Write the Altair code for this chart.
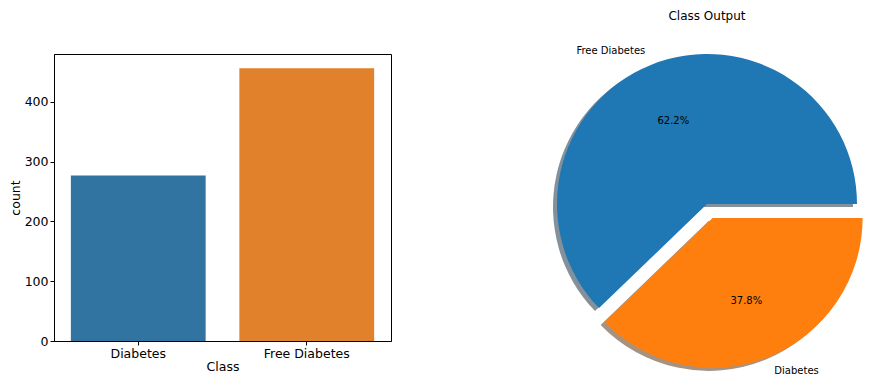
import math
import altair as alt
import pandas as pd

# ---- data ----
classes = ["Diabetes", "Free Diabetes"]
counts = [277, 456]
y_ticks = [0, 100, 200, 300, 400]

# ---- styles ----
bar_colors = ["#3274a1", "#e1812c"]
pie_colors = ["#ff7f0e", "#1f77b4"]
shadow_colors = ["#a59281", "#84919a"]
explode = [0.1, 0.0]
R = 150
SANS = "DejaVu Sans"

df = pd.DataFrame({"Class": classes, "count": counts, "idx": list(range(len(classes)))})

# ---- bar chart ----
bar = alt.Chart(df).mark_bar().encode(
    x=alt.X("Class:N", sort=classes,
            scale=alt.Scale(paddingInner=0.2, paddingOuter=0.1),
            axis=alt.Axis(title="Class", labelAngle=0, titlePadding=1)),
    y=alt.Y("count:Q", scale=alt.Scale(domain=[0, 480], nice=False),
            axis=alt.Axis(title="count", values=y_ticks, titlePadding=2)),
    color=alt.Color("Class:N", scale=alt.Scale(domain=classes, range=bar_colors), legend=None),
).properties(
    width=337, height=287,
    title=alt.TitleParams(" ", fontSize=11, offset=34),
    view=alt.ViewBackground(stroke="black", strokeWidth=1),
)

# ---- pie chart ----
total = sum(counts)
fracs = [c / total for c in counts]
starts = [sum(fracs[:i]) for i in range(len(fracs))]
mids = [s + f / 2 for s, f in zip(starts, fracs)]
theta_scale = alt.Scale(domain=[0, 1], range=[math.pi / 2, math.pi / 2 + 2 * math.pi])

base = alt.Chart(df).transform_joinaggregate(
    total="sum(count)"
).transform_window(
    cum="sum(count)", sort=[alt.SortField("idx")], frame=[None, 0]
).transform_calculate(
    end="datum.cum / datum.total",
    start="(datum.cum - datum.count) / datum.total",
    mid="(datum.cum - datum.count / 2) / datum.total",
    pct="format(100 * datum.count / datum.total, '.1f') + '%'",
)

shadow_layers, wedge_layers, text_layers = [], [], []
for i, name in enumerate(classes):
    ang = math.pi / 2 + 2 * math.pi * mids[i]
    ex = explode[i] * R * math.sin(ang)
    ey = -explode[i] * R * math.cos(ang)
    sub = base.transform_filter(alt.datum.Class == name)
    enc = dict(theta=alt.Theta("start:Q", scale=theta_scale, stack=None),
               theta2=alt.Theta2("end:Q"))
    shadow_layers.append(sub.mark_arc(radius=R, xOffset=ex - 4, yOffset=ey + 3,
                                      color=shadow_colors[i]).encode(**enc))
    wedge_layers.append(sub.mark_arc(radius=R, xOffset=ex, yOffset=ey,
                                     color=pie_colors[i]).encode(**enc))
    align = "right" if math.sin(ang) < 0 else "left"
    text_layers.append(sub.mark_text(radius=0.6 * R, xOffset=ex, yOffset=ey, font=SANS,
                                     fontSize=10, color="black").encode(
        theta=alt.Theta("mid:Q", scale=theta_scale), text="pct:N"))
    text_layers.append(sub.mark_text(radius=1.1 * R, xOffset=ex, yOffset=ey, font=SANS,
                                     fontSize=10, color="black", align=align,
                                     baseline="middle").encode(
        theta=alt.Theta("mid:Q", scale=theta_scale), text="Class:N"))

pie = alt.layer(*shadow_layers, *wedge_layers, *text_layers).properties(
    width=310, height=300,
    title=alt.TitleParams("Class Output", fontSize=12, font=SANS, fontWeight="normal",
                          color="black", offset=23),
    view=alt.ViewBackground(fill="white", stroke=None),
)

chart = alt.hconcat(bar, pie, spacing=160).resolve_scale(
    color="independent", theta="independent"
).properties(
    padding={"left": 0, "top": 0, "right": 0, "bottom": 0}
).configure_view(stroke=None).configure_axis(
    labelFont=SANS, labelFontSize=12.5, labelColor="black",
    titleFont=SANS, titleFontSize=12.5, titleColor="black", titleFontWeight="normal",
    domainColor="black", tickColor="black", tickSize=4, labelPadding=2,
    grid=False,
)

chart.save("out.html", embed_options={"renderer": "svg", "actions": False})
